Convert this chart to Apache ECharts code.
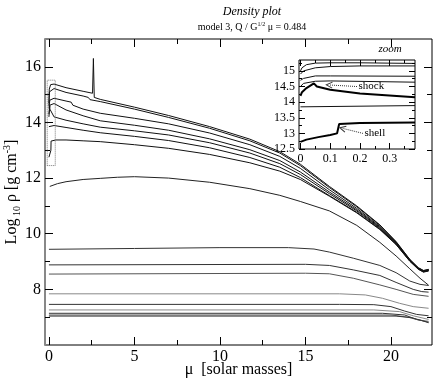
<!DOCTYPE html>
<html>
<head>
<meta charset="utf-8">
<script src="https://cdn.jsdelivr.net/npm/echarts@6/dist/echarts.min.js"></script>
<style>
  html, body { margin: 0; padding: 0; background: #fff; }
  #chart { width: 436px; height: 382px; }
</style>
</head>
<body>
<div id="chart"></div>
<script>
// tick positions
const muTicks = [0, 5, 10, 15, 20];
const muMinor = [2.5, 7.5, 12.5, 17.5];
const rhoTicks = [8, 10, 12, 14, 16];
const rhoMinor = [7, 9, 11, 13, 15];
const zoomMuTicks = [0, 0.1, 0.2, 0.3];
const zoomMuMinor = [0.05, 0.15, 0.25, 0.35];
const zoomRhoTicks = [12.5, 13, 13.5, 14, 14.5, 15];
const zoomRhoMinor = [12.75, 13.25, 13.75, 14.25, 14.75, 15.25];

// main plot: [mu, log10 rho]
const curveA = [[0,14.6],[0.02,15.2],[0.1,15.36],[0.3,15.38],[1,15.25],[2,15.12],[2.55,15.05],[2.6,16.3],[2.65,14.9],[2.75,14.87],[3,14.83],[5,14.55],[7,14.25],[9.4,13.85],[11.75,13.4],[13.5,12.95],[14.7,12.5],[16.4,11.7],[18,11.0],[19.35,10.32],[20.3,9.72],[21.1,9.08],[21.6,8.78],[21.9,8.68],[22.2,8.72]];
const curveB = [[0,14.7],[0.03,15.1],[0.3,15.22],[1,15.08],[2,14.95],[2.3,14.9],[2.4,14.82],[3,14.75],[5,14.48],[7,14.18],[9.4,13.79],[11.75,13.34],[13.5,12.9],[14.7,12.45],[16.4,11.66],[18,10.97],[19.35,10.3],[20.3,9.7],[21.1,9.07],[21.6,8.77],[21.9,8.67],[22.2,8.71]];
const curveC = [[0,14.5],[0.05,14.8],[0.3,14.87],[1,14.77],[1.3,14.73],[1.4,14.62],[2,14.48],[3,14.33],[5,14.15],[7,13.95],[9.4,13.62],[11.75,13.2],[13.5,12.78],[14.7,12.35],[16.4,11.58],[18,10.91],[19.35,10.26],[20.3,9.68],[21.1,9.05],[21.6,8.76],[21.9,8.66],[22.2,8.7]];
const curveD = [[0,14.3],[0.05,14.62],[0.3,14.68],[1,14.45],[2,14.24],[3,14.06],[5,13.9],[7,13.72],[9.4,13.41],[11.75,13.02],[13.5,12.63],[14.7,12.22],[16.4,11.5],[18,10.86],[19.35,10.23],[20.3,9.66],[21.1,9.04],[21.6,8.75],[21.9,8.65],[22.2,8.69]];
const curveE = [[0,14.2],[0.045,14.6],[0.055,14.48],[0.3,14.2],[1,14.08],[2,13.95],[3,13.83],[5,13.7],[7,13.55],[9.4,13.27],[11.75,12.9],[13.5,12.52],[14.7,12.13],[16.4,11.44],[18,10.82],[19.35,10.2],[20.3,9.64],[21.1,9.03],[21.6,8.74],[21.9,8.64],[22.2,8.68]];
const curveF = [[0,13.85],[0.02,13.89],[0.3,13.89],[1,13.82],[2,13.72],[3,13.63],[5,13.5],[7,13.35],[9.4,13.09],[11.75,12.74],[13.5,12.39],[14.7,12.02],[16.4,11.37],[18,10.77],[19.35,10.17],[20.3,9.62],[21.1,9.02],[21.6,8.73],[21.9,8.63],[22.2,8.67]];
const curveG = [[0,12.75],[0.115,13.0],[0.125,13.33],[0.4,13.37],[1,13.37],[2,13.34],[3,13.31],[5,13.2],[7,13.07],[9.4,12.85],[11.75,12.55],[13.5,12.25],[14.7,11.95],[16.4,11.35],[18,10.75],[19.35,10.15],[20.3,9.61],[21.1,9.01],[21.6,8.72],[21.9,8.62],[22.2,8.66]];
const curveM = [[0.05,11.7],[0.5,11.8],[1,11.87],[2,11.95],[3,11.99],[4,12.03],[5,12.05],[7,12.0],[9.4,11.85],[11.75,11.62],[13.5,11.38],[14.7,11.16],[16.4,10.82],[18,10.3],[19.35,9.69],[20.3,9.2],[21.1,8.74],[21.7,8.4],[22.2,8.15]];
const curveL1 = [[0,9.44],[5,9.47],[10,9.5],[14,9.5],[15.5,9.45],[16.4,9.34],[17.8,9.12],[19.35,8.86],[20.3,8.6],[21.1,8.3],[21.7,8.18],[22.2,8.14]];
const curveL2 = [[0,8.88],[15,8.9],[16.4,8.86],[17.8,8.7],[19.35,8.5],[20.3,8.25],[21.3,8.0],[21.8,7.92],[22.2,7.9]];
const curveL3 = [[0,8.55],[15,8.58],[16.4,8.56],[17.8,8.4],[19.35,8.16],[20.3,8.0],[21.3,7.82],[22.2,7.75]];
const curveL4 = [[0,7.84],[17,7.84],[18.5,7.8],[19.5,7.68],[20.5,7.5],[21.3,7.38],[22.2,7.32]];
const curveL5 = [[0,7.46],[17,7.46],[19,7.45],[20,7.38],[20.8,7.22],[21.5,7.1],[22.2,7.05]];
const curveL6 = [[0,7.26],[19,7.26],[20.5,7.2],[21.3,7.05],[22.2,6.92]];
const curveL7 = [[0,7.14],[19.5,7.14],[20.8,7.08],[21.5,6.92],[22.2,6.82]];
const curveL8 = [[0,7.08],[20,7.08],[21,7.0],[21.6,6.9],[22.2,6.85]];
const curveL9 = [[0,7.04],[20.3,7.04],[21.2,6.98],[21.8,6.88],[22.2,6.8]];
const zoomBox = [[-0.1,12.45],[0.37,12.45],[0.37,15.52],[-0.1,15.52],[-0.1,12.45]];

// zoom inset
const zoomA = [[0,15.0],[0.005,15.1],[0.02,15.2],[0.05,15.25],[0.1,15.26],[0.2,15.26],[0.385,15.24]];
const zoomB = [[0,14.9],[0.01,15.0],[0.05,15.1],[0.1,15.14],[0.2,15.16],[0.385,15.16]];
const zoomC = [[0,14.7],[0.01,14.76],[0.05,14.84],[0.1,14.84],[0.385,14.83]];
const zoomD = [[0,14.5],[0.01,14.6],[0.05,14.67],[0.1,14.68],[0.385,14.64]];
const zoomShock = [[0,14.2],[0.005,14.32],[0.02,14.45],[0.045,14.6],[0.05,14.62],[0.055,14.5],[0.1,14.4],[0.2,14.28],[0.385,14.16]];
const zoomF = [[0,13.85],[0.005,13.89],[0.385,13.89]];
const zoomShell = [[0,12.73],[0.02,12.8],[0.06,12.88],[0.1,12.95],[0.123,13.0],[0.13,13.3],[0.2,13.33],[0.385,13.35]];
const shockArrow = [[0.19,14.5],[0.097,14.55]];
const shellArrow = [[0.21,13.0],[0.142,13.16]];

const serif = 'Liberation Serif';

function tickAxis(dim, grid, pos, min, max, vals, len, labels, extra) {
  const a = {
    gridIndex: grid, type: 'value', min: min, max: max, position: pos,
    axisLine: { show: false, onZero: false },
    splitLine: { show: false },
    axisTick: { show: true, inside: true, length: len, customValues: vals,
      lineStyle: { color: '#000', width: 1 } },
    axisLabel: { show: false }
  };
  if (labels) {
    a.axisLabel = { show: true, customValues: vals, fontFamily: serif,
      color: '#000', fontSize: labels, margin: 4 };
  }
  return Object.assign(a, extra || {});
}

function line(data, xi, yi, color, width, z) {
  return {
    type: 'line', data: data, xAxisIndex: xi, yAxisIndex: yi,
    showSymbol: false, symbol: 'none', silent: true, z: z || 2,
    lineStyle: { color: color, width: width }
  };
}

// dotted pointer with an open head at the curve and a text at its tail
function pointer(pts, text, rot) {
  return {
    type: 'line', xAxisIndex: ZI, yAxisIndex: ZI, silent: true, z: 13,
    showSymbol: true, showAllSymbol: true, clip: false,
    lineStyle: { type: 'dotted', color: '#333', width: 1 },
    data: [
      { value: pts[0], symbol: 'circle', symbolSize: 1,
        itemStyle: { color: 'rgba(0,0,0,0)' },
        label: { show: true, position: 'right', distance: 1, formatter: text,
          fontFamily: serif, fontSize: 11, color: '#000' } },
      { value: pts[1], symbol: 'path://M10,0 L0,5 L10,10', symbolSize: [6, 6],
        symbolRotate: rot, symbolKeepAspect: true,
        itemStyle: { color: 'rgba(0,0,0,0)', borderColor: '#333', borderWidth: 1 } }
    ]
  };
}

const ZI = 8; // first axis index of the inset
const chart = echarts.init(document.getElementById('chart'));

const series = [
  line(curveA, 0, 0, '#111', 1), line(curveB, 0, 0, '#111', 1),
  line(curveC, 0, 0, '#111', 1), line(curveD, 0, 0, '#111', 1),
  line(curveE, 0, 0, '#111', 1), line(curveF, 0, 0, '#111', 1),
  line(curveG, 0, 0, '#111', 1), line(curveM, 0, 0, '#222', 1),
  line(curveL1, 0, 0, '#333', 1), line(curveL2, 0, 0, '#333', 1),
  line(curveL3, 0, 0, '#555', 1), line(curveL4, 0, 0, '#888', 1),
  line(curveL5, 0, 0, '#333', 1), line(curveL6, 0, 0, '#888', 1),
  line(curveL7, 0, 0, '#333', 1), line(curveL8, 0, 0, '#666', 1),
  line(curveL9, 0, 0, '#333', 1)
];
const box = line(zoomBox, 0, 0, '#777', 1, 3);
box.lineStyle.type = 'dotted';
series.push(box);

series.push(
  line(zoomA, ZI, ZI, '#111', 1, 11), line(zoomB, ZI, ZI, '#111', 1, 11),
  line(zoomC, ZI, ZI, '#111', 1, 11), line(zoomD, ZI, ZI, '#111', 1, 11),
  line(zoomF, ZI, ZI, '#111', 1, 11),
  line(zoomShock, ZI, ZI, '#000', 2, 11), line(zoomShell, ZI, ZI, '#000', 2, 11),
  pointer(shockArrow, 'shock', -3), pointer(shellArrow, 'shell', -14)
);

const option = {
  animation: false,
  backgroundColor: '#fff',
  title: [
    { text: 'Density plot', left: 247, top: 1, textAlign: 'center',
      textStyle: { fontFamily: serif, fontStyle: 'italic', fontWeight: 'normal', fontSize: 12, color: '#000' } },
    { text: '{a|model 3, Q / G}{s|1/2}{a| μ = 0.484}', left: 247, top: 16, textAlign: 'center',
      textStyle: { fontWeight: 'normal', rich: {
        a: { fontFamily: serif, fontSize: 10, color: '#000', lineHeight: 12 },
        s: { fontFamily: serif, fontSize: 6, color: '#000', verticalAlign: 'top', lineHeight: 12 } } } },
    { text: 'zoom', left: 385, top: 39, textAlign: 'center',
      textStyle: { fontFamily: serif, fontStyle: 'italic', fontWeight: 'normal', fontSize: 11, color: '#000' } }
  ],
  grid: [
    { left: 45, top: 39, width: 387, height: 306, show: true, borderColor: '#000', borderWidth: 1,
      outerBoundsMode: 'none', containLabel: false },
    { left: 299, top: 60, width: 116, height: 89, show: true, backgroundColor: '#fff',
      borderColor: '#000', borderWidth: 1, z: 10, outerBoundsMode: 'none', containLabel: false }
  ],
  xAxis: [
    tickAxis('x', 0, 'bottom', -0.23, 22.4, muTicks, 8, 16, {
      name: 'μ  [solar masses]', nameLocation: 'middle', nameGap: 17, nameMoveOverlap: false,
      nameTextStyle: { fontFamily: serif, fontSize: 16, color: '#000' } }),
    tickAxis('x', 0, 'bottom', -0.23, 22.4, muMinor, 5),
    tickAxis('x', 0, 'top', -0.23, 22.4, muTicks, 8),
    tickAxis('x', 0, 'top', -0.23, 22.4, muMinor, 5),
    null, null, null, null,
    tickAxis('x', 1, 'bottom', -0.005, 0.385, zoomMuTicks, 6, 12, { z: 12 }),
    tickAxis('x', 1, 'bottom', -0.005, 0.385, zoomMuMinor, 3, 0, { z: 12 }),
    tickAxis('x', 1, 'top', -0.005, 0.385, zoomMuTicks, 6, 0, { z: 12 }),
    tickAxis('x', 1, 'top', -0.005, 0.385, zoomMuMinor, 3, 0, { z: 12 })
  ],
  yAxis: [
    tickAxis('y', 0, 'left', 6, 17, rhoTicks, 8, 16, {
      axisLine: { show: true, onZero: false, lineStyle: { color: '#888', width: 2 } },
      name: '{a|Log}{b| 10}{a| ρ [g cm}{c|-3}{a|]}', nameLocation: 'middle', nameGap: 23,
      nameMoveOverlap: false,
      nameTextStyle: { rich: {
        a: { fontFamily: serif, fontSize: 16, color: '#000', lineHeight: 20 },
        b: { fontFamily: serif, fontSize: 10, color: '#000', verticalAlign: 'bottom', lineHeight: 20 },
        c: { fontFamily: serif, fontSize: 10, color: '#000', verticalAlign: 'top', lineHeight: 20 } } } }),
    tickAxis('y', 0, 'left', 6, 17, rhoMinor, 5),
    tickAxis('y', 0, 'right', 6, 17, rhoTicks, 8),
    tickAxis('y', 0, 'right', 6, 17, rhoMinor, 5),
    null, null, null, null,
    tickAxis('y', 1, 'left', 12.5, 15.35, zoomRhoTicks, 6, 12, { z: 12 }),
    tickAxis('y', 1, 'left', 12.5, 15.35, zoomRhoMinor, 3, 0, { z: 12 }),
    tickAxis('y', 1, 'right', 12.5, 15.35, zoomRhoTicks, 6, 0, { z: 12 }),
    tickAxis('y', 1, 'right', 12.5, 15.35, zoomRhoMinor, 3, 0, { z: 12 })
  ],
  series: series
};

// fill the unused slots so that inset axes keep index ZI
for (let i = 4; i < ZI; i++) {
  option.xAxis[i] = tickAxis('x', 0, 'bottom', -0.23, 22.4, [], 0, 0, { show: false });
  option.yAxis[i] = tickAxis('y', 0, 'left', 6, 17, [], 0, 0, { show: false });
}

chart.setOption(option);
</script>
</body>
</html>
